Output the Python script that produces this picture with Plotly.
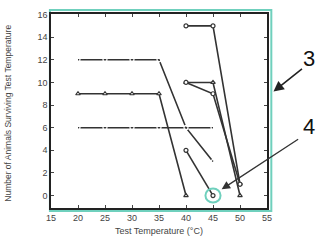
import plotly.graph_objects as go

# Data series
s12_x = [20, 25, 30, 35, 40, 45]
s12_y = [12, 12, 12, 12, 6, 3]
s9_x = [20, 25, 30, 35, 40]
s9_y = [9, 9, 9, 9, 0]
s6_x = [20, 25, 30, 35, 40, 45]
s6_y = [6, 6, 6, 6, 6, 6]
s4_x = [40, 45]
s4_y = [4, 0]
s15_x = [40, 45, 50]
s15_y = [15, 15, 1]
s10a_x = [40, 45, 50]
s10a_y = [10, 10, 0]
s10b_x = [40, 45, 50]
s10b_y = [10, 9, 1]

x_ticks = [15, 20, 25, 30, 35, 40, 45, 50, 55]
y_ticks = [0, 2, 4, 6, 8, 10, 12, 14, 16]

LINE = "#333333"
TEAL = "#6fd0bd"
FONT = "Liberation Sans Narrow, Liberation Sans, Arial"

fig = go.Figure()

def add(xs, ys, sym):
    fig.add_trace(go.Scatter(
        x=xs, y=ys, mode="lines+markers",
        line=dict(color=LINE, width=1.6),
        marker=dict(symbol=sym, size=4, color="white",
                    line=dict(color=LINE, width=1.2)),
        showlegend=False, hoverinfo="skip"))

add(s12_x, s12_y, "circle-open")
add(s9_x, s9_y, "triangle-up")
add(s6_x, s6_y, "circle-open")
add(s4_x, s4_y, "circle")
add(s15_x, s15_y, "circle")
add(s10a_x, s10a_y, "triangle-up")
add(s10b_x, s10b_y, "circle")

axis_common = dict(
    showgrid=False, zeroline=False, showline=True, linecolor="#222",
    linewidth=1.5, mirror="ticks", ticks="inside", ticklen=3,
    tickcolor="#444", tickwidth=1,
    tickfont=dict(family=FONT, size=9, color="#444"),
)

fig.update_xaxes(range=[15, 55], tickvals=x_ticks, **axis_common)
fig.update_yaxes(range=[-1.1, 16.05], tickvals=y_ticks, **axis_common)

# teal frame around plot
fig.add_shape(type="rect", xref="paper", yref="paper",
              x0=-0.005, x1=1.02, y0=-0.015, y1=1.02,
              line=dict(color=TEAL, width=2), layer="below")
# teal highlight circle around (45,0)
fig.add_shape(type="circle", xref="x", yref="y",
              x0=43.6, x1=46.4, y0=-0.62, y1=0.62,
              line=dict(color=TEAL, width=2))

fig.update_layout(
    width=319, height=242,
    margin=dict(l=51, r=52, t=10, b=34),
    paper_bgcolor="white", plot_bgcolor="white",
    annotations=[
        dict(text="Test Temperature (°C)", xref="paper", yref="paper",
             x=0.5, y=-0.12, yanchor="middle", showarrow=False,
             font=dict(family=FONT, size=9, color="#444")),
        dict(text="Number of Animals Surviving Test Temperature", xref="paper", yref="paper",
             x=-0.2, y=0.49, textangle=-90, xanchor="center", showarrow=False,
             font=dict(family=FONT, size=8.5, color="#444")),
        dict(text="3", xref="paper", yref="paper", x=1.232, y=0.77,
             xanchor="right", yanchor="middle", showarrow=False,
             font=dict(family="Liberation Sans, Arial", size=22, color="#111")),
        dict(text="4", xref="paper", yref="paper", x=1.232, y=0.42,
             xanchor="right", yanchor="middle", showarrow=False,
             font=dict(family="Liberation Sans, Arial", size=22, color="#111")),
        dict(text="", xref="paper", yref="paper", x=1.03, y=0.6,
             ax=30, ay=-24, axref="pixel", ayref="pixel",
             showarrow=True, arrowhead=2, arrowsize=1.3, arrowwidth=1.6, arrowcolor="#222"),
        dict(text="", xref="x", yref="y", x=46.6, y=0.55,
             ax=78, ay=-51, axref="pixel", ayref="pixel",
             showarrow=True, arrowhead=2, arrowsize=1.3, arrowwidth=1.3, arrowcolor="#333"),
    ],
)

fig.write_html("out.html", config={"displayModeBar": False})
with open("out.html", "r", encoding="utf-8") as f:
    html = f.read()
html = html.replace("<head>", "<head><style>html,body{margin:0;padding:0;overflow:hidden;}</style>", 1)
with open("out.html", "w", encoding="utf-8") as f:
    f.write(html)
